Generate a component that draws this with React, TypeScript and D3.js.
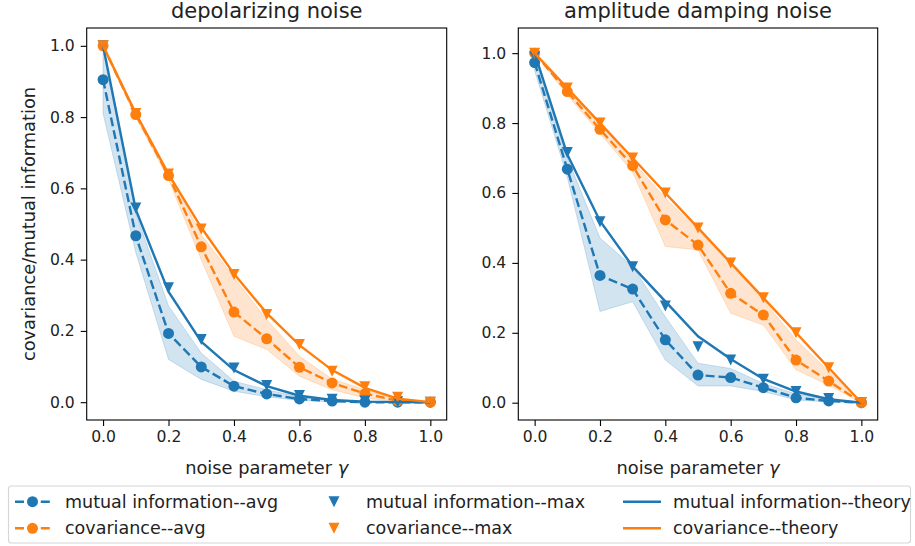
import { useEffect, useRef } from "react";
import * as d3 from "d3";

// noise parameter values shared by every series
const gammas = [0, 0.1, 0.2, 0.3, 0.4, 0.5, 0.6, 0.7, 0.8, 0.9, 1.0];
const xTicks = [0, 0.2, 0.4, 0.6, 0.8, 1.0];
const yTicks = [0, 0.2, 0.4, 0.6, 0.8, 1.0];

// depolarizing noise
const depolMiAvg = [0.905, 0.467, 0.193, 0.099, 0.045, 0.023, 0.009, 0.003, 0.0, 0.0, 0.0];
const depolMiLow = [0.81, 0.42, 0.12, 0.064, 0.031, 0.015, 0.005, 0.001, 0.0, 0.0, 0.0];
const depolMiHigh = [0.99, 0.53, 0.27, 0.138, 0.059, 0.035, 0.015, 0.006, 0.002, 0.001, 0.0];
const depolMiMax = [1.0, 0.545, 0.321, 0.176, 0.096, 0.047, 0.019, 0.008, 0.003, 0.001, 0.0];
const depolMiTheory = [1.0, 0.54, 0.31, 0.17, 0.09, 0.045, 0.018, 0.006, 0.0015, 0.0002, 0.0];
const depolCovAvg = [1.0, 0.807, 0.636, 0.436, 0.253, 0.178, 0.098, 0.054, 0.024, 0.004, 0.0];
const depolCovLow = [0.995, 0.8, 0.625, 0.4, 0.185, 0.148, 0.073, 0.035, 0.012, 0.001, 0.0];
const depolCovHigh = [1.0, 0.815, 0.645, 0.47, 0.35, 0.232, 0.129, 0.065, 0.035, 0.008, 0.0];
const depolCovMax = [1.0, 0.81, 0.64, 0.486, 0.358, 0.246, 0.162, 0.087, 0.043, 0.014, 0.0];
const depolCovTheory = [1.0, 0.81, 0.64, 0.49, 0.36, 0.25, 0.16, 0.09, 0.04, 0.01, 0.0];

// amplitude damping noise
const ampMiAvg = [0.973, 0.668, 0.364, 0.325, 0.18, 0.079, 0.072, 0.043, 0.014, 0.005, 0.0];
const ampMiLow = [0.95, 0.645, 0.261, 0.289, 0.122, 0.048, 0.048, 0.032, 0.008, 0.002, 0.0];
const ampMiHigh = [0.99, 0.7, 0.471, 0.39, 0.246, 0.113, 0.098, 0.055, 0.025, 0.01, 0.0];
const ampMiMax = [0.99, 0.716, 0.518, 0.389, 0.277, 0.16, 0.122, 0.067, 0.032, 0.012, 0.0];
const ampMiTheory = [1.0, 0.71, 0.52, 0.39, 0.29, 0.19, 0.125, 0.068, 0.032, 0.01, 0.0];
const ampCovAvg = [1.0, 0.89, 0.782, 0.678, 0.523, 0.451, 0.313, 0.251, 0.122, 0.062, 0.0];
const ampCovLow = [1.0, 0.88, 0.77, 0.66, 0.447, 0.437, 0.256, 0.222, 0.094, 0.05, 0.0];
const ampCovHigh = [1.0, 0.9, 0.8, 0.69, 0.585, 0.494, 0.4, 0.294, 0.18, 0.09, 0.0];
const ampCovMax = [1.0, 0.9, 0.8, 0.7, 0.6, 0.5, 0.4, 0.3, 0.2, 0.1, 0.0];
const ampCovTheory = [1.0, 0.9, 0.8, 0.7, 0.6, 0.5, 0.4, 0.3, 0.2, 0.1, 0.0];

const BLUE = "#1f77b4";
const ORANGE = "#ff7f0e";
const FONT = "DejaVu Sans, sans-serif";
const LW = 2.4;
const DASH = "9,3.9";
const MR = 5.5;

const legendLabels = [
    "mutual information--avg",
    "covariance--avg",
    "mutual information--max",
    "covariance--max",
    "mutual information--theory",
    "covariance--theory",
];

// downward triangle like matplotlib's "v" marker
const triPath = (s: number) => `M${-s},${-s}L${s},${-s}L0,${s}Z`;

function drawPanel(svg: any, opts: any) {
    const { left, right, top, bottom, yDomain, title, yLabel, mi, cov } = opts;

    const x = d3.scaleLinear().domain([-0.05, 1.05]).range([left, right]);
    const y = d3.scaleLinear().domain(yDomain).range([bottom, top]);

    const g = svg.append("g");

    // shaded spread of the averages
    const band = (low: number[], high: number[], color: string) => {
        const a = d3.area<number>()
            .x((d, i) => x(gammas[i]))
            .y0((d, i) => y(low[i]))
            .y1((d, i) => y(high[i]));
        g.append("path")
            .datum(low)
            .attr("d", a)
            .attr("fill", color)
            .attr("fill-opacity", 0.2)
            .attr("stroke", color)
            .attr("stroke-opacity", 0.2)
            .attr("stroke-width", 1);
    };
    band(mi.low, mi.high, BLUE);
    band(cov.low, cov.high, ORANGE);

    const line = d3.line<number>()
        .x((d, i) => x(gammas[i]))
        .y((d) => y(d));

    const avgSeries = (vals: number[], color: string) => {
        g.append("path")
            .datum(vals)
            .attr("d", line)
            .attr("fill", "none")
            .attr("stroke", color)
            .attr("stroke-width", LW)
            .attr("stroke-dasharray", DASH);
        g.selectAll(null)
            .data(vals)
            .enter()
            .append("circle")
            .attr("cx", (d: number, i: number) => x(gammas[i]))
            .attr("cy", (d: number) => y(d))
            .attr("r", MR)
            .attr("fill", color);
    };
    const maxSeries = (vals: number[], color: string) => {
        g.selectAll(null)
            .data(vals)
            .enter()
            .append("path")
            .attr("d", triPath(MR))
            .attr("transform", (d: number, i: number) => `translate(${x(gammas[i])},${y(d)})`)
            .attr("fill", color);
    };
    const theorySeries = (vals: number[], color: string) => {
        g.append("path")
            .datum(vals)
            .attr("d", line)
            .attr("fill", "none")
            .attr("stroke", color)
            .attr("stroke-width", LW);
    };

    avgSeries(mi.avg, BLUE);
    avgSeries(cov.avg, ORANGE);
    maxSeries(mi.max, BLUE);
    maxSeries(cov.max, ORANGE);
    theorySeries(mi.theory, BLUE);
    theorySeries(cov.theory, ORANGE);

    // spines
    g.append("rect")
        .attr("x", left)
        .attr("y", top)
        .attr("width", right - left)
        .attr("height", bottom - top)
        .attr("fill", "none")
        .attr("stroke", "#000")
        .attr("stroke-width", 1.1);

    // axes
    const xAxis = d3.axisBottom(x).tickValues(xTicks).tickFormat(d3.format(".1f")).tickSize(6).tickPadding(5);
    const xg = svg.append("g").attr("transform", `translate(0,${bottom})`).call(xAxis);
    const yAxis = d3.axisLeft(y).tickValues(yTicks).tickFormat(d3.format(".1f")).tickSize(6).tickPadding(6);
    const yg = svg.append("g").attr("transform", `translate(${left},0)`).call(yAxis);
    for (const ax of [xg, yg]) {
        ax.select(".domain").remove();
        ax.selectAll("line").attr("stroke", "#000").attr("stroke-width", 1.1);
        ax.selectAll("text")
            .attr("font-family", FONT)
            .attr("font-size", 15.6)
            .attr("fill", "#222");
    }

    const cx = (left + right) / 2;
    svg.append("text")
        .attr("x", cx)
        .attr("y", 18)
        .attr("text-anchor", "middle")
        .attr("font-family", FONT)
        .attr("font-size", 21)
        .attr("fill", "#222")
        .text(title);

    const xl = svg.append("text")
        .attr("x", cx)
        .attr("y", 474)
        .attr("text-anchor", "middle")
        .attr("font-family", FONT)
        .attr("font-size", 17.8)
        .attr("fill", "#222");
    xl.append("tspan").text("noise parameter ");
    xl.append("tspan").attr("font-style", "italic").text("γ");

    if (yLabel) {
        svg.append("text")
            .attr("transform", `translate(35,${(top + bottom) / 2}) rotate(-90)`)
            .attr("text-anchor", "middle")
            .attr("font-family", FONT)
            .attr("font-size", 17.8)
            .attr("fill", "#222")
            .text(yLabel);
    }
}

export default function App() {
    const svgRef = useRef<SVGSVGElement>(null);

    useEffect(() => {
        const svg = d3.select(svgRef.current);
        svg.selectAll("*").remove();

        drawPanel(svg, {
            left: 86.7, right: 446.7, top: 28, bottom: 420,
            yDomain: [-0.05, 1.05],
            title: "depolarizing noise",
            yLabel: "covariance/mutual information",
            mi: { avg: depolMiAvg, low: depolMiLow, high: depolMiHigh, max: depolMiMax, theory: depolMiTheory },
            cov: { avg: depolCovAvg, low: depolCovLow, high: depolCovHigh, max: depolCovMax, theory: depolCovTheory },
        });

        drawPanel(svg, {
            left: 518.3, right: 877.7, top: 28, bottom: 420,
            yDomain: [-0.0495, 1.072],
            title: "amplitude damping noise",
            yLabel: null,
            mi: { avg: ampMiAvg, low: ampMiLow, high: ampMiHigh, max: ampMiMax, theory: ampMiTheory },
            cov: { avg: ampCovAvg, low: ampCovLow, high: ampCovHigh, max: ampCovMax, theory: ampCovTheory },
        });

        // legend, 3 columns of 2 rows
        const lg = svg.append("g");
        lg.append("rect")
            .attr("x", 8.5).attr("y", 486)
            .attr("width", 902).attr("height", 57)
            .attr("rx", 3)
            .attr("fill", "#fff")
            .attr("stroke", "#d6d6d6")
            .attr("stroke-width", 1.1);

        const rowY = [501.7, 528.3];
        const colors = [BLUE, ORANGE];
        legendLabels.forEach((label, k) => {
            const col = Math.floor(k / 2);
            const row = k % 2;
            const hy = rowY[row];
            const color = colors[row];
            if (col === 0) {
                lg.append("line")
                    .attr("x1", 15).attr("x2", 50)
                    .attr("y1", hy).attr("y2", hy)
                    .attr("stroke", color).attr("stroke-width", LW)
                    .attr("stroke-dasharray", DASH);
                lg.append("circle").attr("cx", 32.5).attr("cy", hy).attr("r", MR).attr("fill", color);
            } else if (col === 1) {
                lg.append("path")
                    .attr("d", triPath(MR))
                    .attr("transform", `translate(${334},${hy})`)
                    .attr("fill", color);
            } else {
                lg.append("line")
                    .attr("x1", 623).attr("x2", 661)
                    .attr("y1", hy).attr("y2", hy)
                    .attr("stroke", color).attr("stroke-width", LW);
            }
            const tx = [65, 366, 673][col];
            lg.append("text")
                .attr("x", tx)
                .attr("y", hy)
                .attr("dy", "0.35em")
                .attr("font-family", FONT)
                .attr("font-size", 17.5)
                .attr("fill", "#222")
                .text(label);
        });
    }, []);

    return (
        <svg
            ref={svgRef}
            width={915}
            height={546}
            style={{ position: "absolute", left: 0, top: 0, background: "#fff" }}
        />
    );
}
